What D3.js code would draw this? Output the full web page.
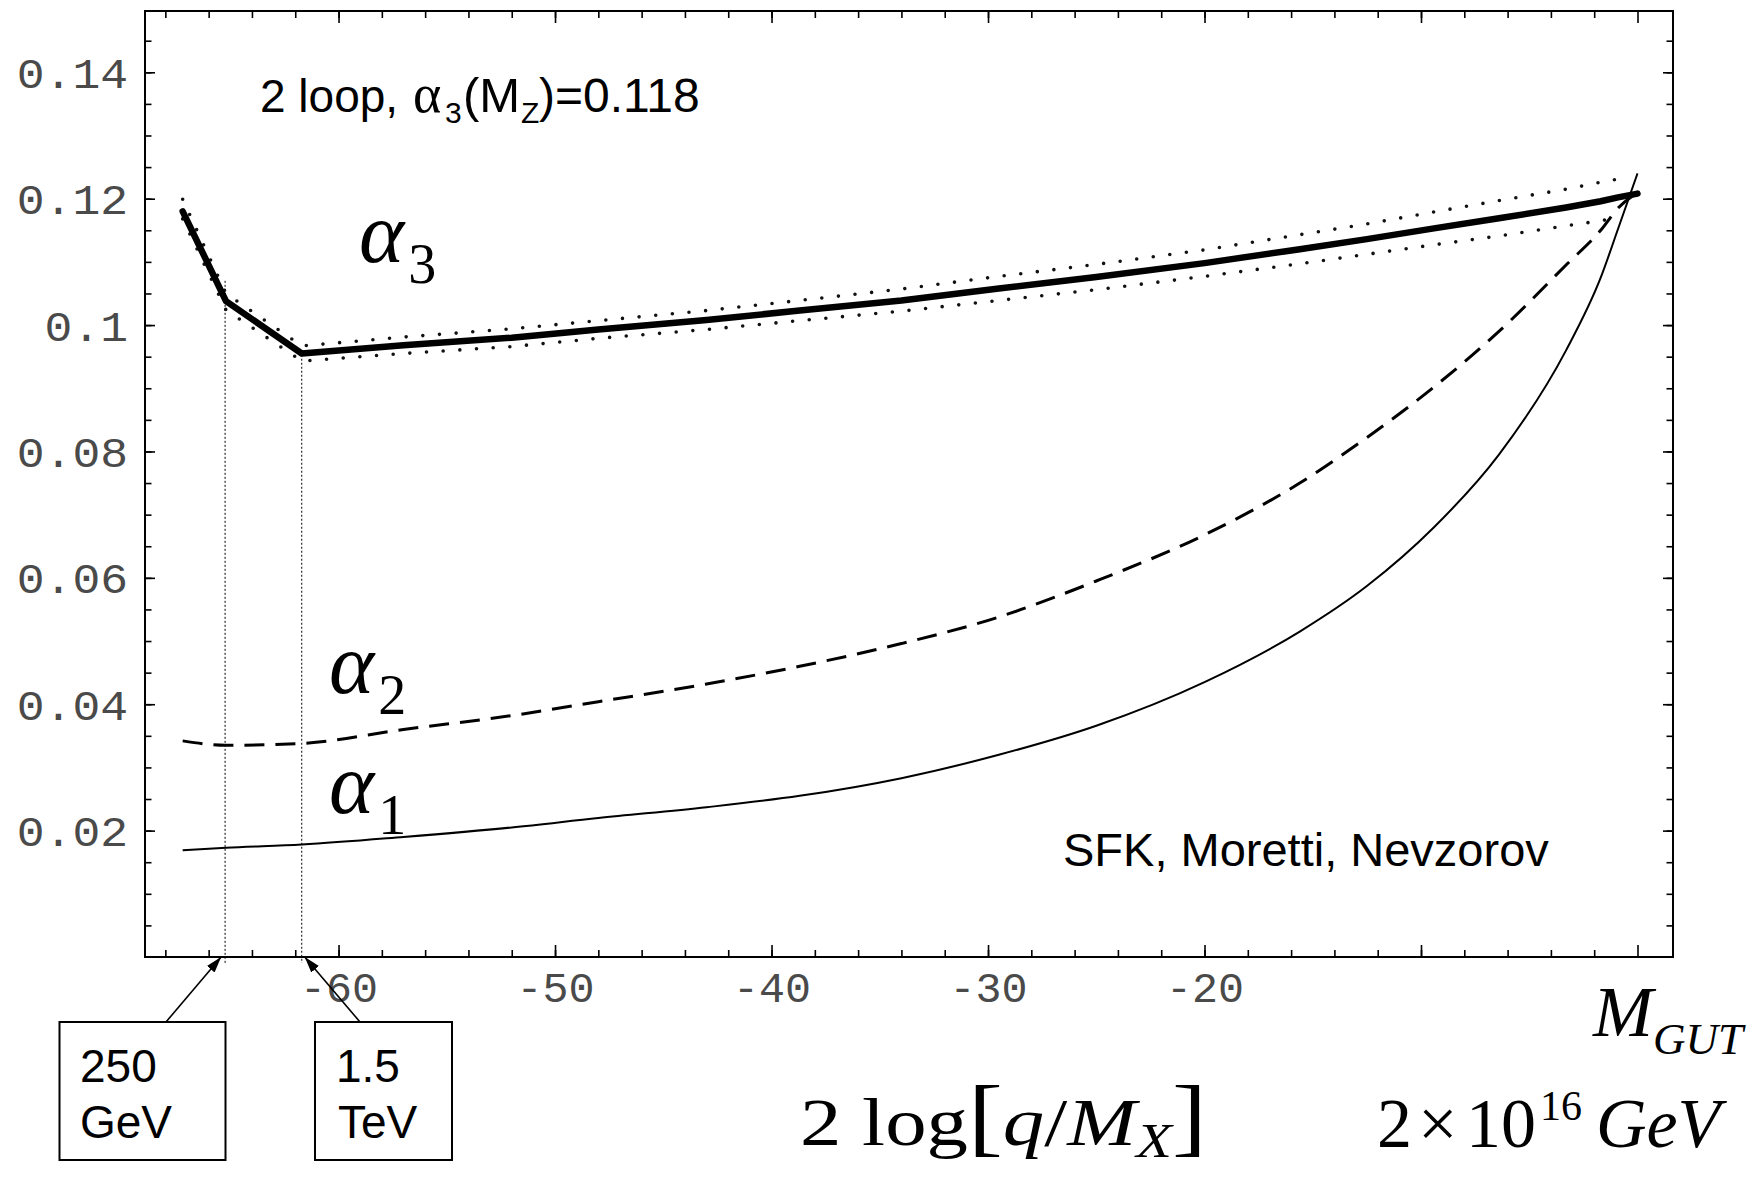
<!DOCTYPE html>
<meta charset="utf-8">
<style>
body { margin: 0; background: #fff; }
svg { display: block; background: #fff; }
.frame { fill: none; stroke: #000; stroke-width: 2px; }
.tick line { stroke: #000; stroke-width: 1.6px; }
.tick text { font-family: "Liberation Mono", "Courier New", monospace; font-size: 42px; fill: #4a4a4a; }
.a3 { fill: none; stroke: #000; stroke-width: 6.5px; stroke-linejoin: round; stroke-linecap: round; }
.band { fill: none; stroke: #111; stroke-width: 3.6px; stroke-dasharray: 0 16.7; stroke-linecap: round; }
.a2 { fill: none; stroke: #000; stroke-width: 3px; stroke-dasharray: 20 11; }
.a1 { fill: none; stroke: #000; stroke-width: 2px; }
.guide { stroke: #000; stroke-width: 1px; stroke-dasharray: 2 2; }
.arrow { stroke: #000; stroke-width: 1.6px; }
.box { fill: none; stroke: #000; stroke-width: 2px; }
.sans { font-family: "Liberation Sans", Arial, sans-serif; fill: #000; }
.serif { font-family: "Liberation Serif", "Times New Roman", serif; fill: #000; }
</style>
<body>
<script src="https://cdn.jsdelivr.net/npm/d3@7"></script>
<script>
var width = 1760,
    height = 1183;

// 2 log[q/M_X] sample positions
var scale = [-67.2, -65.2, -61.7, -57, -52, -48, -43, -38.7, -34, -29.5, -25, -20, -15.6, -12.5, -9.4, -6.4, -3.3, -1.7, -0.9, 0];
var alpha1 = [0.0169, 0.0173, 0.0178, 0.0190, 0.0205, 0.0220, 0.0237, 0.0255, 0.0283, 0.0320, 0.0366, 0.0435, 0.0515, 0.0587, 0.0680, 0.0795, 0.0960, 0.1075, 0.1152, 0.1240];
var alpha2 = [0.0342, 0.0335, 0.0338, 0.0360, 0.0382, 0.0404, 0.0432, 0.0460, 0.0496, 0.0538, 0.0595, 0.0668, 0.0750, 0.0822, 0.0902, 0.0990, 0.1095, 0.1150, 0.1185, 0.1210];
var alpha3 = [0.1180, 0.1038, 0.0955, 0.0968, 0.0980, 0.0993, 0.1008, 0.1023, 0.1039, 0.1058, 0.1076, 0.1098, 0.1120, 0.1136, 0.1153, 0.1169, 0.1186, 0.1196, 0.1202, 0.1208];
// uncertainty band of alpha3 (stops at -0.9)
var alpha3Upper = [0.1199, 0.1050, 0.0967, 0.0981, 0.0994, 0.1007, 0.1023, 0.1039, 0.1057, 0.1077, 0.1096, 0.1119, 0.1143, 0.1160, 0.1179, 0.1197, 0.1215, 0.1226, 0.1231];
var alpha3Lower = [0.1168, 0.1024, 0.0943, 0.0955, 0.0966, 0.0979, 0.0993, 0.1007, 0.1022, 0.1039, 0.1056, 0.1077, 0.1097, 0.1112, 0.1127, 0.1141, 0.1157, 0.1165, 0.1170];

// thresholds: 250 GeV and 1.5 TeV
var guideX = [-65.24, -61.7];
var guideTop = [0.107, 0.0953];
var guideText = [["250", "GeV"], ["1.5", "TeV"]];

var xTickValues = [-60, -50, -40, -30, -20, -10, 0];
var xTickLabels = ["-60", "-50", "-40", "-30", "-20", "", ""];
var xMinor = d3.range(-68, 0, 2);
var yTickValues = [0.02, 0.04, 0.06, 0.08, 0.1, 0.12, 0.14];
var yTickLabels = ["0.02", "0.04", "0.06", "0.08", "0.1", "0.12", "0.14"];
var yMinor = d3.range(0.005, 0.149, 0.005);

var pL = 145, pR = 1673, pT = 11, pB = 957;

var x = d3.scaleLinear().domain([-68.94, 1.64]).range([pL, pR]);
var y = d3.scaleLinear().domain([0, 0.1497]).range([pB, pT]);

var svg = d3.select("body").append("svg")
    .attr("width", width)
    .attr("height", height);

svg.append("rect")
    .attr("width", width)
    .attr("height", height)
    .attr("fill", "#fff");

function noDomain(g) { g.select(".domain").remove(); }

// bottom
svg.append("g")
    .attr("transform", "translate(0," + pB + ")")
    .call(d3.axisBottom(x).tickValues(xMinor).tickSize(-7).tickFormat(""))
    .call(noDomain);
var xAxis = svg.append("g")
    .attr("transform", "translate(0," + pB + ")")
    .call(d3.axisBottom(x).tickValues(xTickValues).tickSize(-12)
      .tickFormat(function(d, i) { return xTickLabels[i]; }))
    .call(noDomain);
xAxis.selectAll("text")
    .attr("y", 45)
    .attr("dy", null)
    .attr("textLength", function(d, i) { return xTickLabels[i].length * 26; })
    .attr("lengthAdjust", "spacingAndGlyphs");

// top
svg.append("g")
    .attr("transform", "translate(0," + pT + ")")
    .call(d3.axisTop(x).tickValues(xMinor).tickSize(-7).tickFormat(""))
    .call(noDomain);
svg.append("g")
    .attr("transform", "translate(0," + pT + ")")
    .call(d3.axisTop(x).tickValues(xTickValues).tickSize(-12).tickFormat(""))
    .call(noDomain);

// left
svg.append("g")
    .attr("transform", "translate(" + pL + ",0)")
    .call(d3.axisLeft(y).tickValues(yMinor).tickSize(-6.5).tickFormat(""))
    .call(noDomain);
var yAxis = svg.append("g")
    .attr("transform", "translate(" + pL + ",0)")
    .call(d3.axisLeft(y).tickValues(yTickValues).tickSize(-10)
      .tickFormat(function(d, i) { return yTickLabels[i]; }))
    .call(noDomain);
yAxis.selectAll("text")
    .attr("x", -17)
    .attr("dy", null)
    .attr("y", 15)
    .attr("textLength", function(d, i) { return yTickLabels[i].length * 27.8; })
    .attr("lengthAdjust", "spacingAndGlyphs");

// right
svg.append("g")
    .attr("transform", "translate(" + pR + ",0)")
    .call(d3.axisRight(y).tickValues(yMinor).tickSize(-6.5).tickFormat(""))
    .call(noDomain);
svg.append("g")
    .attr("transform", "translate(" + pR + ",0)")
    .call(d3.axisRight(y).tickValues(yTickValues).tickSize(-10).tickFormat(""))
    .call(noDomain);

svg.append("rect")
    .attr("class", "frame")
    .attr("x", pL)
    .attr("y", pT)
    .attr("width", pR - pL)
    .attr("height", pB - pT);

// guide lines at thresholds
svg.selectAll(".guide")
    .data(guideX)
  .enter().append("line")
    .attr("class", "guide")
    .attr("x1", function(d) { return x(d); })
    .attr("x2", function(d) { return x(d); })
    .attr("y1", function(d, i) { return y(guideTop[i]); })
    .attr("y2", pB + 6);

// curves
var smooth = d3.line()
    .x(function(d) { return x(d[0]); })
    .y(function(d) { return y(d[1]); })
    .curve(d3.curveMonotoneX);
var straight = d3.line()
    .x(function(d) { return x(d[0]); })
    .y(function(d) { return y(d[1]); });

function pairs(vals) { return vals.map(function(v, i) { return [scale[i], v]; }); }

svg.append("path").attr("class", "band").attr("d", straight(pairs(alpha3Upper)));
svg.append("path").attr("class", "band").attr("d", straight(pairs(alpha3Lower)));
svg.append("path").attr("class", "a3").attr("d", straight(pairs(alpha3)));
svg.append("path").attr("class", "a2").attr("d", smooth(pairs(alpha2)));
svg.append("path").attr("class", "a1").attr("d", smooth(pairs(alpha1)));

// curve labels
function alphaLabel(px, py, sub) {
  var t = svg.append("text").attr("class", "serif").attr("x", px).attr("y", py);
  t.append("tspan").text("α").style("font-style", "italic").style("font-size", "86px");
  t.append("tspan").text(sub).attr("dx", 4).attr("dy", 21).style("font-size", "56px");
}
alphaLabel(359, 262, "3");
alphaLabel(329, 693, "2");
alphaLabel(329, 813, "1");

// title, pieces placed as in the slide
var title = svg.append("text").attr("class", "sans")
    .attr("y", 112).style("font-size", "46px");
title.append("tspan").attr("x", 260).text("2 loop,");
title.append("tspan").attr("x", 413).attr("class", "serif").style("font-size", "54px").text("α");
title.append("tspan").attr("x", 445).attr("y", 123).style("font-size", "30px").text("3");
title.append("tspan").attr("x", 463).attr("y", 112).style("font-size", "49px").text("(M");
title.append("tspan").attr("x", 521).attr("y", 123).style("font-size", "30px").text("Z");
title.append("tspan").attr("x", 539).attr("y", 112).style("font-size", "48px").text(")=0.118");

svg.append("text").attr("class", "sans")
    .attr("x", 1063).attr("y", 866)
    .style("font-size", "47px")
    .text("SFK, Moretti, Nevzorov");

// threshold boxes and arrows
var marker = svg.append("defs").append("marker")
    .attr("id", "head")
    .attr("viewBox", "0 0 16 16")
    .attr("refX", 16).attr("refY", 8)
    .attr("markerUnits", "userSpaceOnUse")
    .attr("markerWidth", 16).attr("markerHeight", 16)
    .attr("orient", "auto");
marker.append("path").attr("d", "M0,3L16,8L0,13Z").attr("fill", "#000");

var boxes = [
  {x: 59.5, w: 166, tx: 80, tail: 166, head: x(guideX[0]) - 4},
  {x: 315, w: 137, tx: 336, tail: 360, head: x(guideX[1]) + 3}
];
boxes.forEach(function(b, i) {
  svg.append("line").attr("class", "arrow")
      .attr("x1", b.tail).attr("y1", 1022)
      .attr("x2", b.head).attr("y2", pB)
      .attr("marker-end", "url(#head)");
  svg.append("rect").attr("class", "box")
      .attr("x", b.x).attr("y", 1022)
      .attr("width", b.w).attr("height", 138);
  svg.append("text").attr("class", "sans")
      .attr("x", b.tx).attr("y", 1082).style("font-size", "46px")
      .text(guideText[i][0]);
  svg.append("text").attr("class", "sans")
      .attr("x", b.tx + (i ? 2 : 0)).attr("y", 1138).style("font-size", "46px")
      .text(guideText[i][1]);
});

// axis title 2 log[q/M_X]
var xt = svg.append("g").attr("class", "serif");
var xl = xt.append("text").style("font-size", "68px");
xl.append("tspan").text("2 log");
xl.append("tspan").text("[").style("font-size", "86px");
xl.append("tspan").text("q").style("font-style", "italic");
xl.append("tspan").text("/");
xl.append("tspan").text("M").style("font-style", "italic");
xl.append("tspan").text("X").attr("dy", 12).style("font-size", "48px").style("font-style", "italic");
xl.append("tspan").text("]").attr("dy", -12).style("font-size", "86px");
var natural = xl.node().getComputedTextLength();
xt.attr("transform", "translate(800,1145) scale(" + (407 / natural) + ",1)");

// M_GUT
var mg = svg.append("text").attr("class", "serif")
    .attr("x", 1593).attr("y", 1036).style("font-style", "italic");
mg.append("tspan").text("M").style("font-size", "72px");
mg.append("tspan").text("GUT").attr("dy", 18).style("font-size", "45px");

// 2 x 10^16 GeV
var gev = svg.append("text").attr("class", "serif").attr("y", 1147).style("font-size", "70px");
gev.append("tspan").attr("x", 1377).text("2");
gev.append("tspan").attr("x", 1418).text("×");
gev.append("tspan").attr("x", 1466).text("10");
gev.append("tspan").attr("x", 1540).attr("y", 1120).style("font-size", "42px").text("16");
gev.append("tspan").attr("x", 1596).attr("y", 1147).style("font-style", "italic").text("GeV");
</script>
